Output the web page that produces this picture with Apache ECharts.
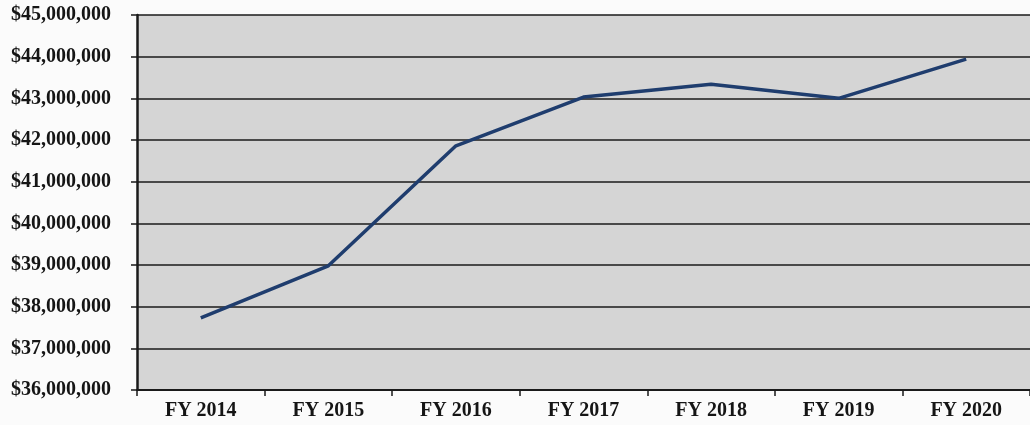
<!DOCTYPE html>
<html>
<head>
<meta charset="utf-8">
<script src="https://cdn.jsdelivr.net/npm/echarts@6/dist/echarts.min.js"></script>
<style>
  html, body { margin: 0; padding: 0; background: #fbfbfb; }
  #charts { width: 1030px; height: 425px; }
</style>
</head>
<body>
<div id="charts"></div>
<script>
// 收入折线图
var years = ['FY 2014', 'FY 2015', 'FY 2016', 'FY 2017', 'FY 2018', 'FY 2019', 'FY 2020'];
var revenue = [37730000, 38980000, 41860000, 43030000, 43340000, 43000000, 43940000];
var yMin = 36000000;
var yMax = 45000000;
var yStep = 1000000;

function money(v) {
    return '$' + String(v).replace(/\B(?=(\d{3})+(?!\d))/g, ',');
}

var myChart = echarts.init(document.getElementById('charts'));

myChart.setOption({
    animation: false,
    grid: {
        left: 137,
        top: 15,
        width: 900,
        height: 375,
        show: true,
        backgroundColor: '#d5d5d5',
        borderWidth: 0
    },
    xAxis: {
        type: 'category',
        data: years,
        axisLine: { lineStyle: { color: '#1a1a1a', width: 2 } },
        axisTick: { show: true, length: 6, lineStyle: { color: '#1a1a1a', width: 1.5 } },
        axisLabel: {
            margin: 11,
            color: '#151515',
            fontFamily: 'Liberation Serif',
            fontWeight: 'bold',
            fontSize: 20
        }
    },
    yAxis: {
        type: 'value',
        min: yMin,
        max: yMax,
        interval: yStep,
        axisLine: { show: true, lineStyle: { color: '#1a1a1a', width: 2.5 } },
        axisTick: { show: true, length: 6, lineStyle: { color: '#1a1a1a', width: 1.5 } },
        splitLine: { lineStyle: { color: '#1a1a1a', width: 1.5 } },
        axisLabel: {
            margin: 26,
            color: '#151515',
            fontFamily: 'Liberation Serif',
            fontWeight: 'bold',
            fontSize: 20,
            formatter: money
        }
    },
    series: [
        {
            name: 'Revenue',
            type: 'line',
            data: revenue,
            symbol: 'none',
            lineStyle: { color: '#1f3d6e', width: 3.5 }
        }
    ]
});
</script>
</body>
</html>
